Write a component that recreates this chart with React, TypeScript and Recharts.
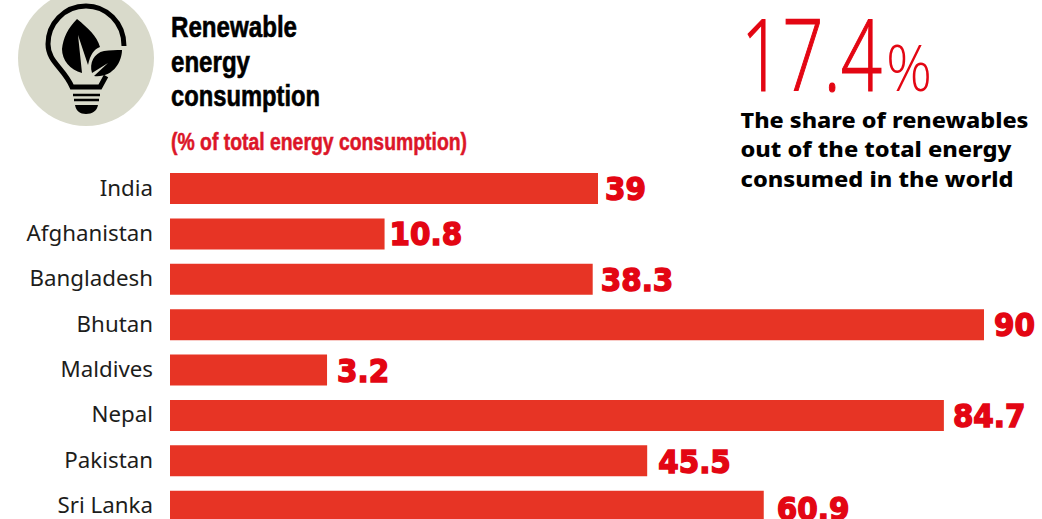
import * as React from 'react';
import { BarChart, Bar, XAxis, YAxis, LabelList } from 'recharts';

const countries = ['India', 'Afghanistan', 'Bangladesh', 'Bhutan', 'Maldives', 'Nepal', 'Pakistan', 'Sri Lanka'];
const shares = [39, 10.8, 38.3, 90, 3.2, 84.7, 45.5, 60.9];
const titleLines = ['Renewable', 'energy', 'consumption'];
const noteLines = ['The share of renewables', 'out of the total energy', 'consumed in the world'];

// bars hang off a false origin, the axis is cut below zero
const AXIS_FLOOR = -17.55;
const AXIS_CEIL = 97.4;

const chartData = countries.map((name, i) => ({ name, share: shares[i], span: [AXIS_FLOOR, shares[i]] }));

const BAR_RED = '#e73425';
const TEXT_RED = '#e30613';
const NARROW = '"Liberation Sans Narrow", "Liberation Sans", sans-serif';
const HUMANIST = '"Noto Sans", "Open Sans", sans-serif';
const LIGHT = '"Open Sans", sans-serif';

// hand spacing for the value figures, row by row
const labelGaps = [7, 5, 8, 10, 10, 9, 11, 13];
const labelDrops = [0, 0, 0, 0, 0, 0, 1, 2];

const ValueLabel = (props: any) => {
    const { x, y, width, height, value, index } = props;
    const left = x + width + labelGaps[index];
    const baseline = y + height / 2 + 11.5 + labelDrops[index];
    return (
        <text
            transform={`translate(${left} ${baseline}) scale(0.92 1)`}
            fill={TEXT_RED}
            fontFamily='"DejaVu Sans", sans-serif'
            fontWeight={700}
            fontSize={32}
            stroke={TEXT_RED}
            strokeWidth={1.5}
        >
            {value}
        </text>
    );
};

const BulbIcon = () => (
    <g>
        <circle cx={86} cy={58} r={68} fill="#d9dacb" />
        <path
            d="M124 46 C124 22 106 6 86 6 C64 6 48 24 48 44 C48 62 64 68 72 87 L100 87 L106 76"
            fill="none"
            stroke="#000"
            strokeWidth={5}
        />
        <path d="M73 95 H100 M74 100 H99" stroke="#000" strokeWidth={2.5} />
        <path d="M75 105 H98 C97 111 92 114 86 114 C80 114 76 111 75 105 Z" fill="#000" />
        <path d="M77 19 C88 28 97 36 100 47 C94 49 90 55 88 65 L78 35 L82 73 C70 70 62 60 62 49 C63 38 68 28 77 19 Z" fill="#000" />
        <path d="M122 50 C122 62 113 78 94 76 L108 63 L92 73 C89 63 94 53 104 51 C110 50 116 50 122 50 Z" fill="#000" />
    </g>
);

const Heading = () => (
    <g>
        {titleLines.map((line, i) => (
            <text
                key={line}
                x={171}
                y={37 + i * 34.5}
                fontFamily={NARROW}
                fontWeight={700}
                fontSize={29}
                fill="#000"
                stroke="#000"
                strokeWidth={0.6}
                textLength={[126, 79, 149][i]}
                lengthAdjust="spacingAndGlyphs"
            >
                {line}
            </text>
        ))}
        <text
            x={171}
            y={150}
            fontFamily={NARROW}
            fontWeight={700}
            fontSize={24}
            fill="#dc1628"
            stroke="#dc1628"
            strokeWidth={0.5}
            textLength={296}
            lengthAdjust="spacingAndGlyphs"
        >
            (% of total energy consumption)
        </text>
    </g>
);

const Callout = () => (
    <g>
        <text
            x={741}
            y={91}
            fontFamily={LIGHT}
            fontWeight={300}
            fontSize={100}
            fill={TEXT_RED}
            stroke={TEXT_RED}
            strokeWidth={1.2}
            textLength={141}
            lengthAdjust="spacingAndGlyphs"
        >
            17.4
        </text>
        <text
            x={886}
            y={91}
            fontFamily={LIGHT}
            fontWeight={300}
            fontSize={64}
            fill={TEXT_RED}
            textLength={46}
            lengthAdjust="spacingAndGlyphs"
        >
            %
        </text>
        {noteLines.map((line, i) => (
            <text
                key={line}
                x={740.5}
                y={128 + i * 29.3}
                fontFamily={HUMANIST}
                fontWeight={800}
                fontSize={22}
                fill="#000"
                textLength={[288, 271, 273][i]}
                lengthAdjust="spacingAndGlyphs"
            >
                {line}
            </text>
        ))}
    </g>
);

export default function App() {
    return (
        <div style={{ position: 'absolute', left: 0, top: 0, width: 1042, height: 519, overflow: 'hidden', background: '#fff' }}>
            <BarChart
                width={1042}
                height={529}
                data={chartData}
                layout="vertical"
                margin={{ top: 166, right: 2, bottom: 0, left: 0 }}
                barCategoryGap={0}
            >
                <XAxis type="number" domain={[AXIS_FLOOR, AXIS_CEIL]} hide allowDataOverflow />
                <YAxis
                    type="category"
                    dataKey="name"
                    width={170}
                    axisLine={false}
                    tickLine={false}
                    tickSize={0}
                    tickMargin={17}
                    interval={0}
                    tick={{ fill: '#1d1d1b', fontSize: 22.3, fontFamily: HUMANIST, dy: -1 }}
                />
                <Bar dataKey="span" fill={BAR_RED} barSize={31} isAnimationActive={false}>
                    <LabelList dataKey="share" content={ValueLabel} />
                </Bar>
                <BulbIcon />
                <Heading />
                <Callout />
            </BarChart>
        </div>
    );
}
